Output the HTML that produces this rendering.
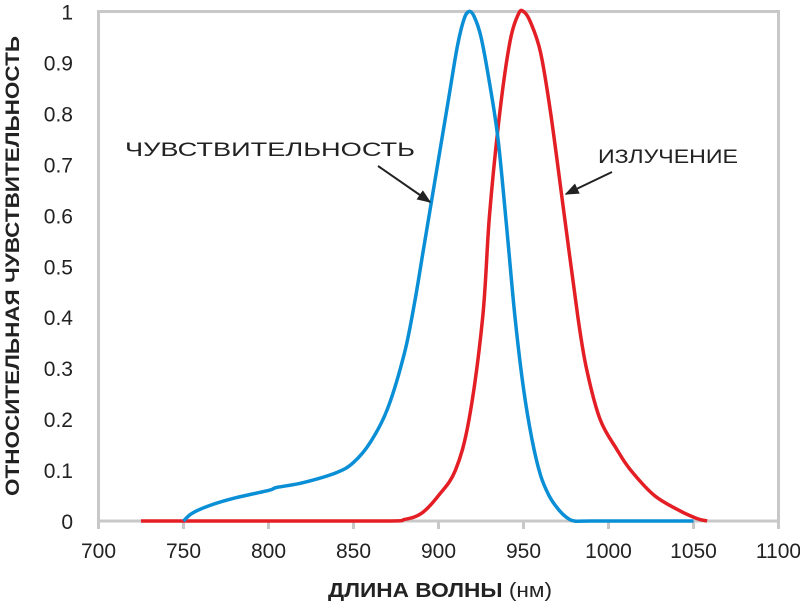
<!DOCTYPE html>
<html><head><meta charset="utf-8"><style>
body{margin:0;background:#fff}
svg{display:block;font-family:"Liberation Sans",sans-serif}
</style></head><body>
<svg id="chart" width="800" height="608">
<g id="grid"></g>
<g id="marks"></g>
<text transform="translate(19,266) rotate(-90)" text-anchor="middle" font-size="19" font-weight="bold" fill="#222" textLength="460" lengthAdjust="spacingAndGlyphs">ОТНОСИТЕЛЬНАЯ ЧУВСТВИТЕЛЬНОСТЬ</text>
<text x="328" y="597" font-size="20" fill="#222" textLength="224" lengthAdjust="spacingAndGlyphs"><tspan font-weight="bold">ДЛИНА ВОЛНЫ</tspan> (нм)</text>
<text x="125" y="156" font-size="19" fill="#222" textLength="290" lengthAdjust="spacingAndGlyphs">ЧУВСТВИТЕЛЬНОСТЬ</text>
<text x="598" y="163" font-size="19" fill="#222" textLength="140" lengthAdjust="spacingAndGlyphs">ИЗЛУЧЕНИЕ</text>
<defs><marker id="ah" viewBox="0 0 10 10" refX="9" refY="5" markerWidth="7" markerHeight="7" orient="auto"><path d="M0,1 L10,5 L0,9 z" fill="#222"/></marker></defs>
<line x1="378" y1="166" x2="430" y2="202" stroke="#222" stroke-width="2" marker-end="url(#ah)"/>
<line x1="612" y1="172" x2="566" y2="194" stroke="#222" stroke-width="2" marker-end="url(#ah)"/>
</svg>
<script>
const xTicks=[700,750,800,850,900,950,1000,1050,1100];
const yTicks=[0,0.1,0.2,0.3,0.4,0.5,0.6,0.7,0.8,0.9,1];
const yTickLabels=["0","0.1","0.2","0.3","0.4","0.5","0.6","0.7","0.8","0.9","1"];
const sensWl=[750,755,765,780,800,805,820,840,850,860,870,880,886,891,896,901,906,911,915,918,921,925,930,935,940,945,950,955,960,965,970,975,980,990,1050];
const sensVal=[0,0.015,0.03,0.045,0.06,0.066,0.075,0.095,0.115,0.155,0.22,0.33,0.43,0.53,0.63,0.73,0.83,0.93,0.985,1.0,0.99,0.95,0.86,0.75,0.58,0.4,0.26,0.16,0.09,0.05,0.025,0.008,0,0,0];
const emWl=[725,800,870,880,890,900,910,918,926,930,936,942,947,950,954,960,966,974,982,987,995,1005,1013,1027,1042,1052,1058];
const emVal=[0,0,0,0.003,0.015,0.05,0.1,0.2,0.4,0.6,0.8,0.94,0.995,1.0,0.98,0.92,0.8,0.6,0.4,0.3,0.2,0.14,0.1,0.05,0.02,0.005,0];
const X=v=>98.5+(v-700)*1.7, Y=v=>521-v*509.5;
const NS="http://www.w3.org/2000/svg";
const grid=document.getElementById('grid'), marks=document.getElementById('marks');
function mk(tag,attrs,parent){const e=document.createElementNS(NS,tag);for(const k in attrs)e.setAttribute(k,attrs[k]);parent.appendChild(e);return e;}
const frame=mk('path',{d:`M${X(700)},${Y(0)} V${Y(1)} H${X(1100)} V${Y(0)}`,fill:'none',stroke:'#c8c8c8','stroke-width':3},grid);


const xa=mk('line',{x1:X(700),y1:Y(0),x2:X(1100),y2:Y(0),stroke:'#c8c8c8','stroke-width':3},grid);


xTicks.forEach(t=>{
 const tk=mk('line',{x1:X(t),y1:Y(0),x2:X(t),y2:Y(0)+8,stroke:'#c8c8c8','stroke-width':3},grid);
 
 
 const tx=mk('text',{x:X(t),y:558,'text-anchor':'middle','font-size':21,fill:'#222'},grid);tx.textContent=t;
 
 
});
yTicks.forEach((t,i)=>{
 const tx=mk('text',{x:73,y:Y(t)+8,'text-anchor':'end','font-size':21,fill:'#222'},grid);tx.textContent=yTickLabels[i];
 
 
});
function curve(xs,ys){const p=xs.map((x,i)=>[X(x),Y(ys[i])]);let d=`M${p[0][0]},${p[0][1]}`;
 for(let i=0;i<p.length-1;i++){const p0=p[i-1]||p[i],p1=p[i],p2=p[i+1],p3=p[i+2]||p2;
  d+=` C${p1[0]+(p2[0]-p0[0])/6},${p1[1]+(p2[1]-p0[1])/6} ${p2[0]-(p3[0]-p1[0])/6},${p2[1]-(p3[1]-p1[1])/6} ${p2[0]},${p2[1]}`;}
 return d;}
const em=mk('path',{d:curve(emWl,emVal),fill:'none',stroke:'#e31e24','stroke-width':3.5},marks);


const se=mk('path',{d:curve(sensWl,sensVal),fill:'none',stroke:'#0a8fd6','stroke-width':3.5},marks);


</script>
</body></html>
